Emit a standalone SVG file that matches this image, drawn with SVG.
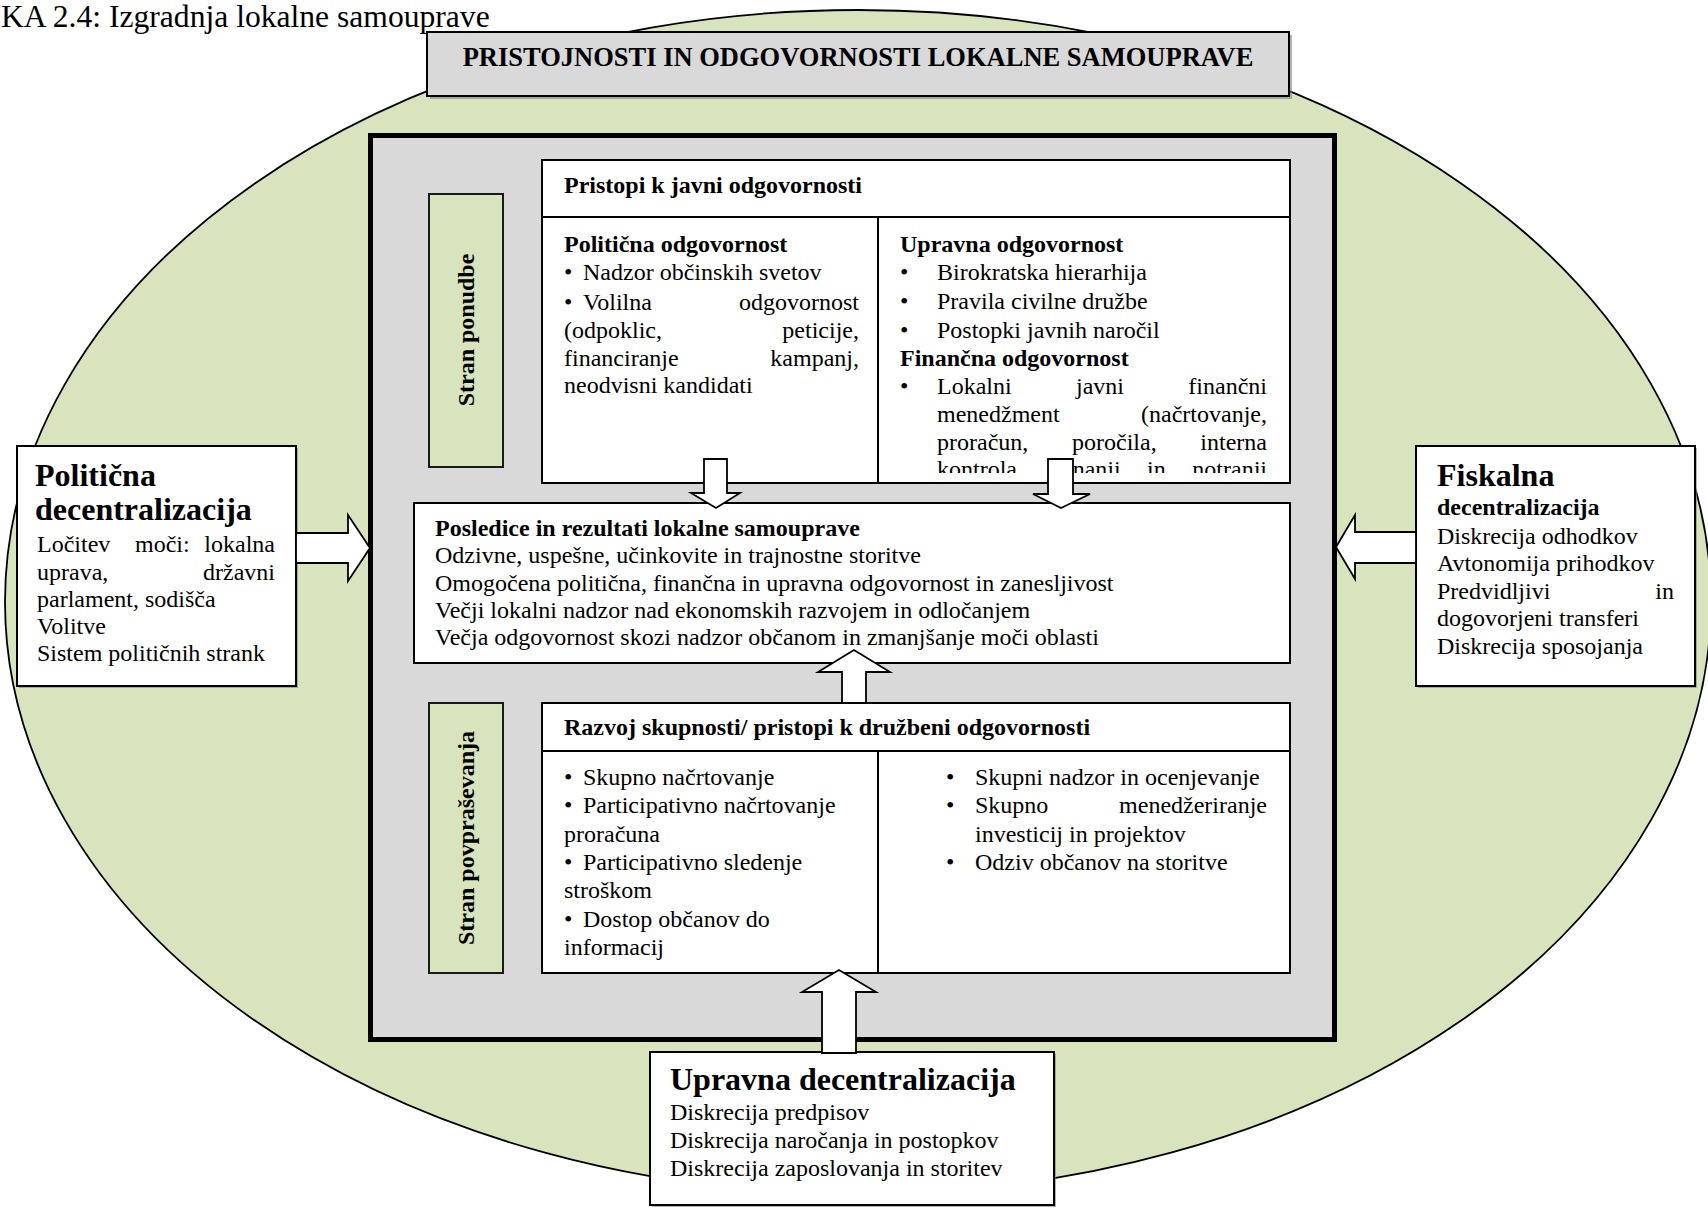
<svg xmlns="http://www.w3.org/2000/svg" width="1708" height="1208" viewBox="0 0 1708 1208">
<style>
.t{font-family:"Liberation Serif","Times New Roman",serif;font-size:24px;fill:#000}
.b{font-weight:bold}
.big{font-size:32px;font-weight:bold}
.box{fill:#fff;stroke:#000;stroke-width:2}
.gray{fill:#d9d9d9;stroke:#000;stroke-width:2}
.green{fill:#d7e4bd;stroke:#1a1a1a;stroke-width:2}
.sh{fill:#7f7f7f;opacity:0.6}
.ln{stroke:#000;stroke-width:2;fill:none}
.arr{fill:#fff;stroke:#000;stroke-width:1.8;stroke-linejoin:miter}
.e{text-anchor:end}
</style>
<defs>
<clipPath id="clipR"><rect x="880" y="219" width="408" height="254"/></clipPath>
</defs>
<rect x="0" y="0" width="1708" height="1208" fill="#fff"/>
<text class="t" x="1" y="27" style="font-size:31.6px">KA 2.4: Izgradnja lokalne samouprave</text>

<g id="ellipse">
<ellipse cx="858" cy="602" rx="853" ry="592" fill="#d7e4bd" stroke="#000" stroke-width="1.8"/>
</g>

<g id="title">
<rect class="sh" x="430" y="35" width="862" height="64"/>
<rect class="gray" x="427" y="32" width="862" height="64"/>
<text class="t b" x="858" y="66" text-anchor="middle" style="font-size:26.5px">PRISTOJNOSTI IN ODGOVORNOSTI LOKALNE SAMOUPRAVE</text>
</g>

<g id="main-frame">
<rect x="370.5" y="135.5" width="964" height="904" fill="#d9d9d9" stroke="#000" stroke-width="5"/>
</g>

<g id="stran-ponudbe">
<rect class="green" x="429" y="194" width="74" height="273"/>
<text class="t b" transform="translate(474 330) rotate(-90)" text-anchor="middle">Stran ponudbe</text>
</g>

<g id="javna-odgovornost">
<rect class="box" x="542" y="160" width="748" height="323"/>
<line class="ln" x1="542" y1="217" x2="1290" y2="217"/>
<line class="ln" x1="878" y1="217" x2="878" y2="483"/>
<text class="t b" x="564" y="193">Pristopi k javni odgovornosti</text>
<text class="t b" x="564" y="252">Politična odgovornost</text>
<text class="t" x="564" y="280">•</text><text class="t" x="583" y="280">Nadzor občinskih svetov</text>
<text class="t" x="564" y="310">•</text><text class="t" x="583" y="310">Volilna</text><text class="t e" x="859" y="310">odgovornost</text>
<text class="t" x="564" y="338">(odpoklic,</text><text class="t e" x="859" y="338">peticije,</text>
<text class="t" x="564" y="366">financiranje</text><text class="t e" x="859" y="366">kampanj,</text>
<text class="t" x="564" y="393">neodvisni kandidati</text>
<g clip-path="url(#clipR)">
<text class="t b" x="900" y="252">Upravna odgovornost</text>
<text class="t" x="900" y="280">•</text><text class="t" x="937" y="280">Birokratska hierarhija</text>
<text class="t" x="900" y="309">•</text><text class="t" x="937" y="309">Pravila civilne družbe</text>
<text class="t" x="900" y="338">•</text><text class="t" x="937" y="338">Postopki javnih naročil</text>
<text class="t b" x="900" y="366">Finančna odgovornost</text>
<text class="t" x="900" y="394">•</text><text class="t" x="937" y="394">Lokalni</text><text class="t" x="1076" y="394">javni</text><text class="t e" x="1267" y="394">finančni</text>
<text class="t" x="937" y="422">menedžment</text><text class="t e" x="1267" y="422">(načrtovanje,</text>
<text class="t" x="937" y="450">proračun,</text><text class="t" x="1072" y="450">poročila,</text><text class="t e" x="1267" y="450">interna</text>
<text class="t" x="937" y="477">kontrola,</text><text class="t" x="1050" y="477">zunanji</text><text class="t" x="1147" y="477">in</text><text class="t e" x="1267" y="477">notranji</text>
</g>
</g>

<g id="posledice">
<rect class="box" x="414" y="503" width="876" height="160"/>
<text class="t b" x="435" y="536">Posledice in rezultati lokalne samouprave</text>
<text class="t" x="435" y="563">Odzivne, uspešne, učinkovite in trajnostne storitve</text>
<text class="t" x="435" y="591">Omogočena politična, finančna in upravna odgovornost in zanesljivost</text>
<text class="t" x="435" y="618">Večji lokalni nadzor nad ekonomskih razvojem in odločanjem</text>
<text class="t" x="435" y="645">Večja odgovornost skozi nadzor občanom in zmanjšanje moči oblasti</text>
</g>

<g id="stran-povprasevanja">
<rect class="green" x="429" y="703" width="74" height="270"/>
<text class="t b" transform="translate(474 838) rotate(-90)" text-anchor="middle">Stran povpraševanja</text>
</g>

<g id="druzbena-odgovornost">
<rect class="box" x="542" y="703" width="748" height="270"/>
<line class="ln" x1="542" y1="751" x2="1290" y2="751"/>
<line class="ln" x1="878" y1="751" x2="878" y2="973"/>
<text class="t b" x="564" y="735">Razvoj skupnosti/ pristopi k družbeni odgovornosti</text>
<text class="t" x="564" y="785">•</text><text class="t" x="583" y="785">Skupno načrtovanje</text>
<text class="t" x="564" y="813">•</text><text class="t" x="583" y="813">Participativno načrtovanje</text>
<text class="t" x="564" y="842">proračuna</text>
<text class="t" x="564" y="870">•</text><text class="t" x="583" y="870">Participativno sledenje</text>
<text class="t" x="564" y="898">stroškom</text>
<text class="t" x="564" y="927">•</text><text class="t" x="583" y="927">Dostop občanov do</text>
<text class="t" x="564" y="955">informacij</text>
<text class="t" x="946" y="785">•</text><text class="t" x="975" y="785">Skupni nadzor in ocenjevanje</text>
<text class="t" x="946" y="813">•</text><text class="t" x="975" y="813">Skupno</text><text class="t e" x="1267" y="813">menedžeriranje</text>
<text class="t" x="975" y="842">investicij in projektov</text>
<text class="t" x="946" y="870">•</text><text class="t" x="975" y="870">Odziv občanov na storitve</text>
</g>

<g id="politicna-decentralizacija">
<rect class="sh" x="19" y="448" width="279" height="240"/>
<rect class="box" x="17" y="446" width="279" height="240"/>
<text class="t big" x="35" y="486">Politična</text>
<text class="t big" x="35" y="520">decentralizacija</text>
<text class="t" x="37" y="552">Ločitev</text><text class="t" x="135" y="552">moči:</text><text class="t e" x="275" y="552">lokalna</text>
<text class="t" x="37" y="580">uprava,</text><text class="t e" x="275" y="580">državni</text>
<text class="t" x="37" y="607">parlament, sodišča</text>
<text class="t" x="37" y="634">Volitve</text>
<text class="t" x="37" y="661">Sistem političnih strank</text>
</g>

<g id="fiskalna-decentralizacija">
<rect class="sh" x="1418" y="448" width="279" height="240"/>
<rect class="box" x="1416" y="446" width="279" height="240"/>
<text class="t big" x="1437" y="486">Fiskalna</text>
<text class="t b" x="1437" y="515">decentralizacija</text>
<text class="t" x="1437" y="544">Diskrecija odhodkov</text>
<text class="t" x="1437" y="571">Avtonomija prihodkov</text>
<text class="t" x="1437" y="599">Predvidljivi</text><text class="t e" x="1674" y="599">in</text>
<text class="t" x="1437" y="626">dogovorjeni transferi</text>
<text class="t" x="1437" y="654">Diskrecija sposojanja</text>
</g>

<g id="upravna-decentralizacija">
<rect class="sh" x="652" y="1054" width="404" height="153"/>
<rect class="box" x="650" y="1052" width="404" height="153"/>
<text class="t big" x="670" y="1090">Upravna decentralizacija</text>
<text class="t" x="670" y="1120">Diskrecija predpisov</text>
<text class="t" x="670" y="1148">Diskrecija naročanja in postopkov</text>
<text class="t" x="670" y="1176">Diskrecija zaposlovanja in storitev</text>
</g>

<g id="connectors">
<polygon class="arr" points="296,533 348,533 348,515 370,548 348,581 348,563 296,563"/>
<polygon class="arr" points="1416,532 1355,532 1355,515 1336,547 1355,579 1355,563 1416,563"/>
<polygon class="arr" points="704,459 727,459 727,493 740,493 716,508 691,493 704,493"/>
<polygon class="arr" points="1048,459 1073,459 1073,494 1090,494 1061,508 1033,494 1048,494"/>
<polygon class="arr" points="842,703 842,672 818,672 854,650 890,672 866,672 866,703"/>
<polygon class="arr" points="822,1053 822,992 802,992 839,970 876,992 856,992 856,1053"/>
</g>
</svg>
